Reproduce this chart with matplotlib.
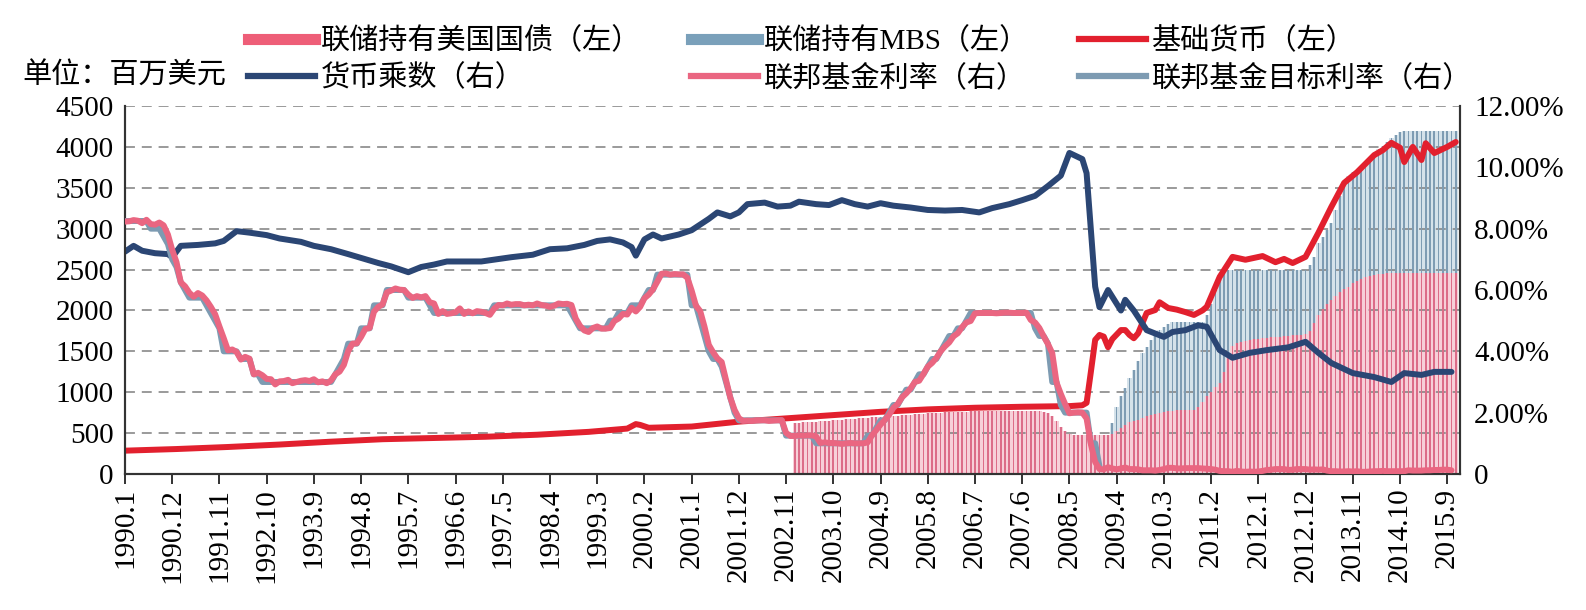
import matplotlib
matplotlib.use("Agg")
import matplotlib.pyplot as plt
import numpy as np
from matplotlib.lines import Line2D

plt.rcParams['font.family'] = ['Liberation Serif', 'Noto Sans CJK SC']


def idx(s):
    # "1990.1" -> 月份序号
    y, m = s.split('.')
    return (int(y) - 1990) * 12 + int(m) - 1


# 联邦基金利率（%），1990.1 - 2015.10 月度
ff_rate = [
    8.23, 8.24, 8.28, 8.26, 8.18, 8.29, 8.15, 8.13, 8.20, 8.11, 7.81, 7.31,
    6.91, 6.25, 6.12, 5.91, 5.78, 5.90, 5.82, 5.66, 5.45, 5.21, 4.81, 4.43,
    4.03, 4.06, 3.98, 3.73, 3.82, 3.76, 3.25, 3.30, 3.22, 3.10, 3.09, 2.92,
    3.02, 3.03, 3.07, 2.96, 3.00, 3.04, 3.06, 3.03, 3.09, 2.99, 3.02, 2.96,
    3.05, 3.25, 3.34, 3.56, 4.01, 4.25, 4.26, 4.47, 4.73, 4.76, 5.29, 5.45,
    5.53, 5.92, 5.98, 6.05, 6.01, 6.00, 5.85, 5.74, 5.80, 5.76, 5.80, 5.60,
    5.56, 5.22, 5.31, 5.22, 5.24, 5.27, 5.40, 5.22, 5.30, 5.24, 5.31, 5.29,
    5.25, 5.19, 5.39, 5.51, 5.50, 5.56, 5.52, 5.54, 5.54, 5.50, 5.52, 5.50,
    5.56, 5.51, 5.49, 5.45, 5.49, 5.56, 5.54, 5.55, 5.51, 5.07, 4.83, 4.68,
    4.63, 4.76, 4.81, 4.74, 4.74, 4.76, 4.99, 5.07, 5.22, 5.20, 5.42, 5.30,
    5.45, 5.73, 5.85, 6.02, 6.27, 6.53, 6.54, 6.50, 6.52, 6.51, 6.51, 6.40,
    5.98, 5.49, 5.31, 4.80, 4.21, 3.97, 3.77, 3.65, 3.07, 2.49, 2.09, 1.82,
    1.73, 1.74, 1.73, 1.75, 1.75, 1.75, 1.73, 1.74, 1.75, 1.75, 1.34, 1.24,
    1.24, 1.26, 1.25, 1.26, 1.26, 1.22, 1.01, 1.03, 1.01, 1.01, 1.00, 0.98,
    1.00, 1.01, 1.00, 1.00, 1.00, 1.03, 1.26, 1.43, 1.61, 1.76, 1.93, 2.16,
    2.28, 2.50, 2.63, 2.79, 3.00, 3.04, 3.26, 3.50, 3.62, 3.78, 4.00, 4.16,
    4.29, 4.49, 4.59, 4.79, 4.94, 4.99, 5.24, 5.25, 5.25, 5.25, 5.25, 5.24,
    5.25, 5.26, 5.26, 5.25, 5.25, 5.25, 5.26, 5.02, 4.94, 4.76, 4.49, 4.24,
    3.94, 2.98, 2.61, 2.28, 1.98, 2.00, 2.01, 2.00, 1.81, 0.97, 0.39, 0.16,
    0.15, 0.22, 0.18, 0.15, 0.18, 0.21, 0.16, 0.16, 0.15, 0.12, 0.12, 0.12,
    0.11, 0.13, 0.16, 0.20, 0.20, 0.18, 0.18, 0.19, 0.19, 0.19, 0.19, 0.18,
    0.17, 0.16, 0.14, 0.10, 0.09, 0.09, 0.07, 0.10, 0.08, 0.07, 0.08, 0.07,
    0.08, 0.10, 0.13, 0.14, 0.16, 0.16, 0.16, 0.13, 0.14, 0.16, 0.16, 0.16,
    0.14, 0.15, 0.14, 0.15, 0.11, 0.09, 0.09, 0.08, 0.08, 0.09, 0.08, 0.09,
    0.07, 0.07, 0.08, 0.09, 0.09, 0.10, 0.09, 0.09, 0.09, 0.09, 0.09, 0.12,
    0.11, 0.11, 0.11, 0.12, 0.12, 0.13, 0.13, 0.14, 0.14, 0.12,
]

# 联邦基金目标利率（%），月末，1990.1 - 2008.12
ff_target = [
    8.25, 8.25, 8.25, 8.25, 8.25, 8.25, 8.00, 8.00, 8.00, 7.75, 7.50, 7.00,
    6.75, 6.25, 6.00, 5.75, 5.75, 5.75, 5.75, 5.50, 5.25, 5.00, 4.75, 4.00,
    4.00, 4.00, 4.00, 3.75, 3.75, 3.75, 3.25, 3.25, 3.00, 3.00, 3.00, 3.00,
    3.00, 3.00, 3.00, 3.00, 3.00, 3.00, 3.00, 3.00, 3.00, 3.00, 3.00, 3.00,
    3.00, 3.25, 3.50, 3.75, 4.25, 4.25, 4.25, 4.75, 4.75, 4.75, 5.50, 5.50,
    5.50, 6.00, 6.00, 6.00, 6.00, 6.00, 5.75, 5.75, 5.75, 5.75, 5.75, 5.50,
    5.25, 5.25, 5.25, 5.25, 5.25, 5.25, 5.25, 5.25, 5.25, 5.25, 5.25, 5.25,
    5.25, 5.25, 5.50, 5.50, 5.50, 5.50, 5.50, 5.50, 5.50, 5.50, 5.50, 5.50,
    5.50, 5.50, 5.50, 5.50, 5.50, 5.50, 5.50, 5.50, 5.25, 5.00, 4.75, 4.75,
    4.75, 4.75, 4.75, 4.75, 4.75, 5.00, 5.00, 5.25, 5.25, 5.25, 5.50, 5.50,
    5.50, 5.75, 6.00, 6.00, 6.50, 6.50, 6.50, 6.50, 6.50, 6.50, 6.50, 6.50,
    5.50, 5.50, 5.00, 4.50, 4.00, 3.75, 3.75, 3.50, 3.00, 2.50, 2.00, 1.75,
    1.75, 1.75, 1.75, 1.75, 1.75, 1.75, 1.75, 1.75, 1.75, 1.75, 1.25, 1.25,
    1.25, 1.25, 1.25, 1.25, 1.25, 1.00, 1.00, 1.00, 1.00, 1.00, 1.00, 1.00,
    1.00, 1.00, 1.00, 1.00, 1.00, 1.25, 1.25, 1.50, 1.75, 1.75, 2.00, 2.25,
    2.25, 2.50, 2.75, 2.75, 3.00, 3.25, 3.25, 3.50, 3.75, 3.75, 4.00, 4.25,
    4.50, 4.50, 4.75, 4.75, 5.00, 5.25, 5.25, 5.25, 5.25, 5.25, 5.25, 5.25,
    5.25, 5.25, 5.25, 5.25, 5.25, 5.25, 5.25, 5.25, 4.75, 4.50, 4.50, 4.25,
    3.00, 3.00, 2.25, 2.00, 2.00, 2.00, 2.00, 2.00, 2.00, 1.00, 1.00, 0.25,
]

# 基础货币（左轴）
base_dates = ['1990.1', '1991.1', '1992.1', '1993.1', '1994.1', '1995.1', '1996.1', '1997.1',
              '1998.1', '1999.1', '1999.10', '1999.12', '2000.1', '2000.3', '2001.1', '2001.12',
              '2002.11', '2003.10', '2004.9', '2005.8', '2006.7', '2007.6', '2008.5', '2008.8',
              '2008.9', '2008.10', '2008.11', '2008.12', '2009.1', '2009.2', '2009.3', '2009.5',
              '2009.6', '2009.7', '2009.8', '2009.9', '2009.11', '2010.1', '2010.2', '2010.4',
              '2010.6', '2010.8', '2010.10', '2010.12', '2011.1', '2011.4', '2011.7', '2011.10',
              '2012.2', '2012.5', '2012.7', '2012.9', '2012.12', '2013.3', '2013.6', '2013.9',
              '2013.12', '2014.4', '2014.6', '2014.8', '2014.10', '2014.11', '2015.1', '2015.3',
              '2015.4', '2015.6', '2015.9', '2015.11']
base_vals = [285, 305, 330, 360, 395, 425, 440, 455,
             480, 515, 555, 610, 600, 565, 580, 640,
             680, 720, 760, 790, 810, 822, 830, 840,
             870, 1250, 1640, 1700, 1680, 1550, 1650, 1760,
             1760, 1700, 1660, 1720, 1970, 2005, 2100, 2030,
             2010, 1980, 1945, 2000, 2045, 2410, 2655, 2620,
             2665, 2590, 2630, 2580, 2655, 2950, 3265, 3560,
             3690, 3900, 3960, 4050, 3990, 3815, 4000, 3840,
             4045, 3925, 4000, 4060]

# 货币乘数（右轴）
mult_dates = ['1990.1', '1990.3', '1990.5', '1990.8', '1990.11', '1990.12', '1991.2', '1991.6',
              '1991.10', '1991.12', '1992.3', '1992.6', '1992.10', '1993.1', '1993.6', '1993.9',
              '1994.1', '1994.5', '1994.12', '1995.3', '1995.7', '1995.10', '1996.1', '1996.4',
              '1996.12', '1997.3', '1997.7', '1997.12', '1998.4', '1998.8', '1998.12', '1999.3',
              '1999.6', '1999.9', '1999.11', '1999.12', '2000.2', '2000.4', '2000.6', '2000.10',
              '2001.1', '2001.5', '2001.7', '2001.10', '2001.12', '2002.2', '2002.6', '2002.9',
              '2002.12', '2003.2', '2003.6', '2003.9', '2003.12', '2004.3', '2004.6', '2004.9',
              '2004.12', '2005.4', '2005.8', '2005.12', '2006.4', '2006.8', '2006.11', '2007.3',
              '2007.6', '2007.9', '2007.12', '2008.3', '2008.5', '2008.8', '2008.9', '2008.11',
              '2008.12', '2009.2', '2009.5', '2009.6', '2009.8', '2009.11', '2010.3', '2010.5',
              '2010.8', '2010.11', '2011.1', '2011.4', '2011.7', '2011.11', '2012.3', '2012.8',
              '2012.12', '2013.3', '2013.6', '2013.11', '2014.4', '2014.8', '2014.11', '2015.3',
              '2015.6', '2015.10']
mult_vals = [7.25, 7.44, 7.28, 7.20, 7.17, 7.07, 7.44, 7.47,
             7.52, 7.60, 7.92, 7.87, 7.79, 7.68, 7.57, 7.44,
             7.33, 7.17, 6.88, 6.77, 6.58, 6.75, 6.83, 6.93,
             6.93, 6.99, 7.07, 7.15, 7.33, 7.36, 7.47, 7.60,
             7.65, 7.55, 7.40, 7.12, 7.65, 7.81, 7.68, 7.81,
             7.95, 8.32, 8.53, 8.40, 8.53, 8.80, 8.85, 8.72,
             8.75, 8.88, 8.80, 8.77, 8.93, 8.80, 8.72, 8.83,
             8.75, 8.69, 8.61, 8.59, 8.61, 8.53, 8.67, 8.80,
             8.93, 9.07, 9.39, 9.73, 10.47, 10.27, 9.81, 6.11,
             5.44, 6.00, 5.33, 5.68, 5.33, 4.69, 4.47, 4.63,
             4.69, 4.85, 4.80, 4.04, 3.79, 3.95, 4.04, 4.13,
             4.31, 3.95, 3.62, 3.29, 3.16, 3.00, 3.29, 3.23,
             3.33, 3.33]

# 联储持有美国国债 / MBS（左轴），2003.1 - 2015.11 月度
bar_start = '2003.1'
treasury = [
    625, 628, 630, 632, 635, 638, 642, 646, 650, 655, 660, 664,
    668, 672, 676, 680, 684, 688, 692, 696, 700, 703, 706, 710,
    714, 718, 722, 726, 730, 734, 738, 742, 745, 748, 750, 752,
    754, 756, 758, 760, 762, 764, 765, 766, 767, 768, 769, 770,
    770, 771, 772, 772, 773, 773, 774, 774, 770, 765, 758, 750,
    710, 650, 580, 530, 490, 476, 476, 476, 476, 476, 476, 476,
    476, 476, 490, 520, 560, 600, 630, 650, 665, 690, 710, 725,
    735, 745, 760, 770, 775, 777, 778, 778, 778, 778, 820, 880,
    950, 1000, 1060, 1110, 1250, 1450, 1570, 1600, 1620, 1630, 1640, 1650,
    1655, 1660, 1665, 1670, 1675, 1680, 1685, 1690, 1695, 1700, 1705, 1710,
    1750, 1850, 1950, 2020, 2080, 2130, 2180, 2220, 2260, 2290, 2330, 2360,
    2390, 2410, 2425, 2435, 2445, 2450, 2455, 2458, 2460, 2460, 2460, 2460,
    2460, 2460, 2460, 2460, 2460, 2460, 2460, 2460, 2460, 2460, 2460,
]
mbs = [
    0, 0, 0, 0, 0, 0, 0, 0, 0, 0, 0, 0,
    0, 0, 0, 0, 0, 0, 0, 0, 0, 0, 0, 0,
    0, 0, 0, 0, 0, 0, 0, 0, 0, 0, 0, 0,
    0, 0, 0, 0, 0, 0, 0, 0, 0, 0, 0, 0,
    0, 0, 0, 0, 0, 0, 0, 0, 0, 0, 0, 0,
    0, 0, 0, 0, 0, 0, 0, 0, 0, 0, 0, 0,
    0, 4, 130, 300, 390, 450, 540, 620, 715, 790, 840, 915,
    975, 1015, 1040, 1070, 1085, 1083, 1082, 1082, 1082, 1082, 1040, 980,
    1000, 1080, 1190, 1260, 1210, 1040, 930, 900, 880, 870, 860, 850,
    845, 840, 835, 830, 825, 820, 815, 810, 805, 800, 795, 790,
    810, 800, 870, 880, 900, 940, 1050, 1180, 1300, 1350, 1360, 1350,
    1350, 1390, 1435, 1485, 1525, 1560, 1605, 1652, 1690, 1720, 1730, 1730,
    1735, 1735, 1735, 1735, 1735, 1735, 1735, 1735, 1735, 1735, 1735,
]

labels = ['联储持有美国国债（左）', '货币乘数（右）', '联储持有MBS（左）',
          '联邦基金利率（右）', '基础货币（左）', '联邦基金目标利率（右）']

c_tsy, c_tsy_light = '#DC6C88', '#F7CFD8'
c_mbs, c_mbs_light = '#7E9CB3', '#D5E2EA'
c_base = '#E2202E'
c_mult = '#2B4674'
c_ff = '#EA6681'
c_target = '#7D9BB2'

fig = plt.figure(figsize=(15.86, 6.10), dpi=100)
ax = fig.add_axes([0.0788, 0.2230, 0.8418, 0.6032])

xb = np.arange(len(treasury)) + idx(bar_start)
tsy = np.array(treasury)
ax.bar(xb, tsy, width=1.0, color=c_tsy_light, zorder=1, linewidth=0)
ax.bar(xb, mbs, bottom=tsy, width=1.0, color=c_mbs_light, zorder=1, linewidth=0)
ax.bar(xb, tsy, width=0.4, color=c_tsy, zorder=2, linewidth=0)
ax.bar(xb, mbs, bottom=tsy, width=0.4, color=c_mbs, zorder=2, linewidth=0)

ax.plot([idx(d) for d in base_dates], base_vals, color=c_base, lw=4.3, zorder=3,
        solid_joinstyle='round', solid_capstyle='round')

ax.set_xlim(0, 311)
ax.set_ylim(0, 4500)
ax.set_yticks(range(0, 4501, 500))
ax.set_axisbelow('line')
ax.yaxis.grid(True, linestyle=(0, (6.5, 4.5)), color='#7f7f7f', lw=1.1)

ticks = np.arange(0, 310, 11)
ax.set_xticks(ticks)
ax.set_xticklabels([f"{1990 + t // 12}.{t % 12 + 1}" for t in ticks], rotation=90, fontsize=21)
ax.tick_params(axis='x', direction='out', length=7, width=1.3, pad=3, color='#222222')
ax.tick_params(axis='y', length=0, pad=8, labelsize=21)

ax2 = ax.twinx()
ax2.set_ylim(0, 12)
ax2.set_yticks(range(0, 13, 2))
ax2.set_yticklabels(['0'] + [f"{v:.2f}%" for v in range(2, 13, 2)])
ax2.tick_params(axis='y', length=0, pad=10, labelsize=21)

ax2.plot([idx(d) for d in mult_dates], mult_vals, color=c_mult, lw=4.3, zorder=2,
         solid_joinstyle='round', solid_capstyle='round')
ax2.plot(np.arange(len(ff_target)), ff_target, color=c_target, lw=4.3, zorder=3,
         solid_joinstyle='round')
ax2.plot(np.arange(len(ff_rate)), ff_rate, color=c_ff, lw=4.3, zorder=4,
         solid_joinstyle='round', solid_capstyle='round')

for a in (ax, ax2):
    a.spines['top'].set_visible(False)
    for s in ('left', 'right', 'bottom'):
        a.spines[s].set_color('#333333')
        a.spines[s].set_linewidth(1.5)

handles = [
    Line2D([], [], color='#EE5E78', lw=8),
    Line2D([], [], color=c_mult, lw=4.5),
    Line2D([], [], color='#7AA0BA', lw=8),
    Line2D([], [], color=c_ff, lw=4.5),
    Line2D([], [], color=c_base, lw=4.5),
    Line2D([], [], color=c_target, lw=4.5),
]
fig.legend(handles, labels, ncol=3, loc='upper left', bbox_to_anchor=(248 / 1586, 0.955),
           frameon=False, fontsize=21, handlelength=2.3, handletextpad=0.2,
           columnspacing=1.7, labelspacing=0.3, borderpad=0, borderaxespad=0)
fig.text(22 / 1586, 1 - 76 / 610, '单位：百万美元', fontsize=21, va='center', ha='left')

fig.savefig('out.png', dpi=100)
